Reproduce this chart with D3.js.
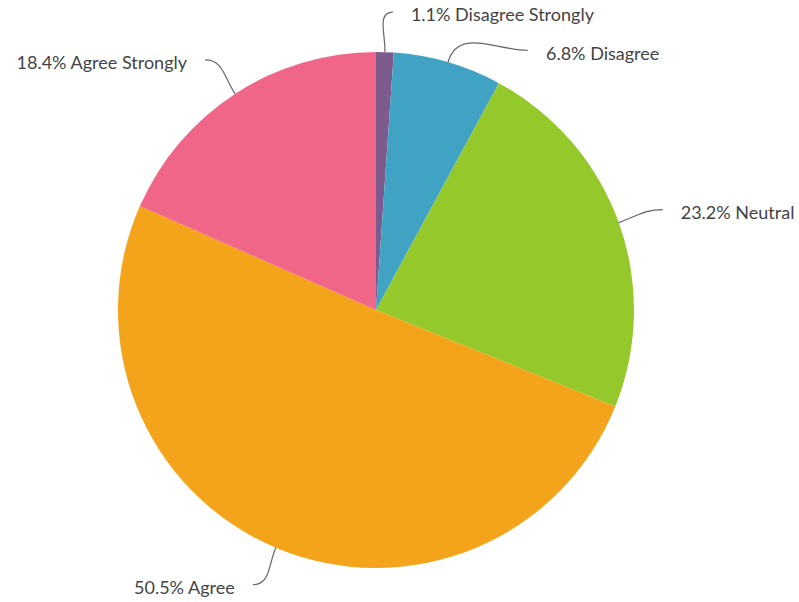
<!DOCTYPE html>
<html>
<head>
<meta charset="utf-8">
<script src="https://cdn.jsdelivr.net/npm/d3@7"></script>
<style>
  html, body { margin: 0; padding: 0; background: #fff; }
  svg { display: block; }
  text { font-family: Lato, "Open Sans", sans-serif; }
</style>
</head>
<body>
<svg id="chart" width="799" height="602"></svg>
<script>
// Survey responses, clockwise from 12 o'clock
const categories = ["Disagree Strongly", "Disagree", "Neutral", "Agree", "Agree Strongly"];
const shares = [1.1, 6.8, 23.2, 50.5, 18.4];
const colors = ["#7e5b8f", "#40a3c4", "#95c82a", "#f4a41b", "#ef6688"];

// Where each label's leader line ends, relative to the slice's outer edge point
const leaderEnds = [
  { dx: 8,  dy: -40 },
  { dx: 80, dy: -12 },
  { dx: 44, dy: -13 },
  { dx: -23, dy: 37 },
  { dx: -30, dy: -34 }
];

const W = 799, H = 602;
const cx = 376, cy = 310, R = 258;

const svg = d3.select("#chart");
const g = svg.append("g").attr("transform", `translate(${cx},${cy})`);

const pie = d3.pie().sort(null).value(d => d)
  .startAngle(0).endAngle(2 * Math.PI);
const arcs = pie(shares);
const arc = d3.arc().innerRadius(0).outerRadius(R);

g.selectAll("path.slice")
  .data(arcs)
  .join("path")
  .attr("class", "slice")
  .attr("d", arc)
  .attr("fill", (d, i) => colors[i]);

// Leader lines and labels
arcs.forEach((d, i) => {
  const mid = (d.startAngle + d.endAngle) / 2;
  const ux = Math.sin(mid), uy = -Math.cos(mid);
  const x0 = R * ux, y0 = R * uy;
  const x3 = x0 + leaderEnds[i].dx, y3 = y0 + leaderEnds[i].dy;
  const right = x3 > 0;
  const dir = right ? 1 : -1;
  const len = Math.hypot(x3 - x0, y3 - y0);
  const k1 = len * 0.45, k2 = len * 0.4;
  const x1 = x0 + ux * k1, y1 = y0 + uy * k1;
  const x2 = x3 - dir * k2, y2 = y3;
  g.append("path")
    .attr("d", `M${x0},${y0} C${x1},${y1} ${x2},${y2} ${x3},${y3}`)
    .attr("fill", "none")
    .attr("stroke", "#666")
    .attr("stroke-width", 1.2);

  g.append("text")
    .attr("x", x3 + dir * 18)
    .attr("y", y3 + 3)
    .attr("dy", "0.35em")
    .attr("text-anchor", right ? "start" : "end")
    .attr("font-size", 18)
    .attr("fill", "#444")
    .text(`${d3.format(".1f")(shares[i])}% ${categories[i]}`);
});
</script>
</body>
</html>
